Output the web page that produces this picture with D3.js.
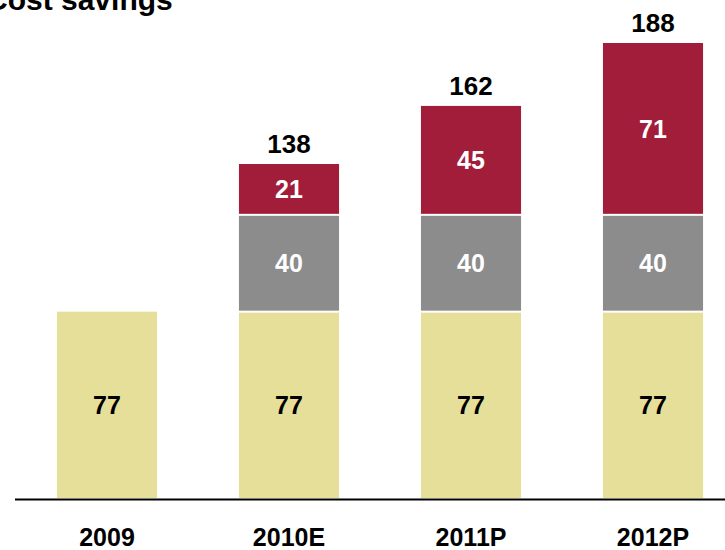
<!DOCTYPE html>
<html>
<head>
<meta charset="utf-8">
<script src="https://cdn.jsdelivr.net/npm/d3@7"></script>
<style>
  html, body { margin: 0; padding: 0; background: #fff; }
  svg { display: block; font-family: "Liberation Sans", Arial, sans-serif; }
</style>
</head>
<body>
<svg id="chart" width="725" height="550"></svg>
<script>
// Cost savings by year, stacked in three layers
const categories = ["2009", "2010E", "2011P", "2012P"];
const baseSavings = [77, 77, 77, 77];
const midSavings = [0, 40, 40, 40];
const topSavings = [0, 21, 45, 71];
const layerKeys = ["base", "mid", "top"];
const layerColors = { base: "#e6df9a", mid: "#8c8c8c", top: "#a21d39" };
const layerLabelColors = { base: "#000", mid: "#fff", top: "#fff" };

const rows = categories.map((c, i) => ({
  category: c,
  base: baseSavings[i],
  mid: midSavings[i],
  top: topSavings[i]
}));

const svg = d3.select("#chart");
const baseY = 498;

const x = d3.scaleBand()
  .domain(categories)
  .range([16, 744])
  .paddingInner(0.45)
  .paddingOuter(0.225);

const y = d3.scaleLinear()
  .domain([0, 188])
  .range([baseY, 43]);

const stacked = d3.stack().keys(layerKeys)(rows);
const gap = 1;

// Stack segments with thin white separations between layers
stacked.forEach(layer => {
  const key = layer.key;
  const g = svg.append("g");
  layer.forEach(d => {
    const v = d[1] - d[0];
    if (v <= 0) return;
    const cat = d.data.category;
    const total = d.data.base + d.data.mid + d.data.top;
    const isTop = d[1] === total;
    const y0 = y(d[0]) - (d[0] === 0 ? 0 : gap);
    const y1 = y(d[1]) + (isTop ? 0 : gap);
    g.append("rect")
      .attr("x", x(cat))
      .attr("width", x.bandwidth())
      .attr("y", y1)
      .attr("height", y0 - y1)
      .attr("fill", layerColors[key]);
    g.append("text")
      .attr("x", x(cat) + x.bandwidth() / 2)
      .attr("y", (y(d[0]) + y(d[1])) / 2)
      .attr("dy", "0.36em")
      .attr("text-anchor", "middle")
      .attr("font-size", 25)
      .attr("font-weight", "bold")
      .attr("fill", layerLabelColors[key])
      .text(v);
  });
});

// Totals above bars that have more than one layer
rows.forEach(r => {
  const total = r.base + r.mid + r.top;
  if (total === r.base) return;
  svg.append("text")
    .attr("x", x(r.category) + x.bandwidth() / 2)
    .attr("y", y(total) - 11)
    .attr("text-anchor", "middle")
    .attr("font-size", 26)
    .attr("font-weight", "bold")
    .attr("fill", "#000")
    .text(total);
});

// Baseline
svg.append("line")
  .attr("x1", 15).attr("x2", 725)
  .attr("y1", baseY + 1.5).attr("y2", baseY + 1.5)
  .attr("stroke", "#000")
  .attr("stroke-width", 2);

// Category labels
const xAxis = d3.axisBottom(x).tickSize(0).tickPadding(0);
const axisG = svg.append("g")
  .attr("transform", `translate(0, ${baseY})`)
  .call(xAxis);
axisG.select(".domain").remove();
axisG.selectAll("text")
  .attr("y", 48)
  .attr("dy", 0)
  .attr("font-size", 25)
  .attr("font-weight", "bold")
  .attr("font-family", "'Liberation Sans', Arial, sans-serif")
  .attr("fill", "#000");

// Title
svg.append("text")
  .attr("x", -14)
  .attr("y", 9.5)
  .attr("font-size", 30)
  .attr("font-weight", "bold")
  .attr("fill", "#000")
  .text("Cost savings");
</script>
</body>
</html>
